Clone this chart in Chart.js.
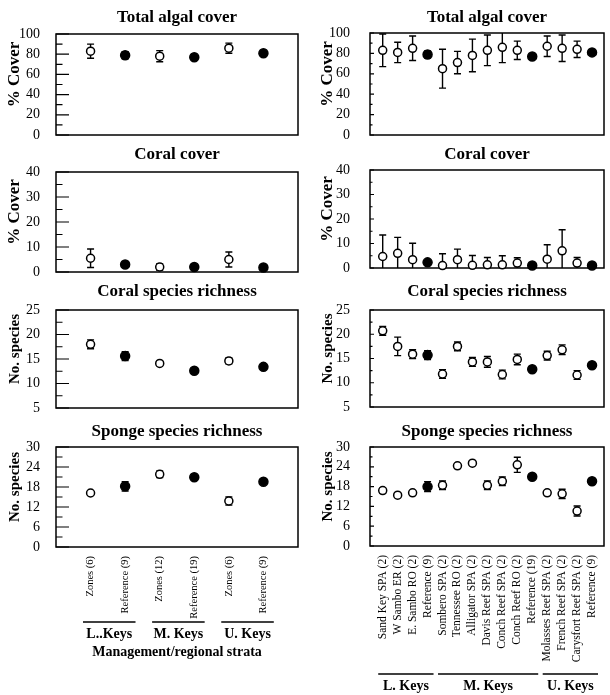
<!DOCTYPE html>
<html>
<head>
<meta charset="utf-8">
<script src="https://cdn.jsdelivr.net/npm/chart.js@4/dist/chart.umd.min.js"></script>
<style>
html,body{margin:0;padding:0;background:#fff;}
body{width:610px;height:695px;position:relative;overflow:hidden;}
canvas{position:absolute;}
</style>
</head>
<body>
<script>
const FONT = "'Liberation Serif', 'Times New Roman', Times, serif";

// ---- categories / labels ----
const leftCategories = ['Zones (6)', 'Reference (9)', 'Zones (12)', 'Reference (19)', 'Zones (6)', 'Reference (9)'];
const rightCategories = ['Sand Key SPA (2)', 'W Sambo ER (2)', 'E. Sambo RO (2)', 'Reference (9)',
  'Sombero SPA (2)', 'Tennessee RO (2)', 'Alligator SPA (2)', 'Davis Reef SPA (2)', 'Conch Reef SPA (2)',
  'Conch Reef RO (2)', 'Reference (19)', 'Molasses Reef SPA (2)', 'French Reef SPA (2)',
  'Carysfort Reef SPA (2)', 'Reference (9)'];
const leftGroupLabels = ['L..Keys', 'M. Keys', 'U. Keys'];
const rightGroupLabels = ['L. Keys', 'M. Keys', 'U. Keys'];
const leftGroupRanges = [[0, 1], [2, 3], [4, 5]];
const rightGroupRanges = [[0, 3], [4, 10], [11, 14]];
const xAxisTitle = 'Management/regional strata';
const panelTitles = ['Total algal cover', 'Coral cover', 'Coral species richness', 'Sponge species richness'];
const yAxisTitles = ['% Cover', '% Cover', 'No. species', 'No. species'];

// ---- tick labels ----
const algalTicks = [0, 20, 40, 60, 80, 100];
const coralTicks = [0, 10, 20, 30, 40];
const richnessTicks = [5, 10, 15, 20, 25];
const spongeTicks = [0, 6, 12, 18, 24, 30];

// ---- series values (mean and +/- error) ----
const leftAlgalMean = [83, 79, 78, 77, 86, 81];
const leftAlgalErr = [7, 3.5, 5.5, 1.5, 5, 1.5];
const rightAlgalMean = [83, 81, 85, 79, 65, 71, 78, 83, 86, 83, 77, 87, 85, 84, 81];
const rightAlgalErr = [16, 10, 12, 3.5, 19, 11, 16, 15, 15, 9, 1.5, 10, 13, 8, 1.5];

const leftCoralMean = [5.5, 3, 2, 2, 5, 1.8];
const leftCoralErr = [3.7, 0.8, 1.3, 0.6, 3, 0.8];
const rightCoralMean = [4.7, 6, 3.4, 2.3, 1, 3.4, 1.1, 1.3, 1.3, 2, 1, 3.6, 7, 2, 1];
const rightCoralErr = [8.8, 6.5, 6.7, 0.6, 4.8, 4.3, 4, 3, 3.7, 2.2, 0.4, 5.9, 8.6, 2.3, 0.4];

const leftRichMean = [18, 15.6, 14.1, 12.6, 14.6, 13.4];
const leftRichErr = [0.9, 0.9, 0.4, 0.4, 0.6, 0.4];
const rightRichMean = [20.7, 17.5, 15.9, 15.7, 11.8, 17.5, 14.3, 14.3, 11.7, 14.8, 12.8, 15.6, 16.8, 11.6, 13.6];
const rightRichErr = [0.9, 1.9, 0.9, 0.9, 0.9, 0.9, 0.9, 1.1, 0.9, 1.1, 0.3, 0.9, 1.0, 0.9, 0.3];

const leftSpongeMean = [16.2, 18.2, 21.8, 20.9, 13.8, 19.6];
const leftSpongeErr = [0.5, 1.4, 1.0, 0.6, 1.2, 0.6];
const rightSpongeMean = [16.8, 15.4, 16.1, 18.0, 18.4, 24.3, 25.1, 18.4, 19.6, 24.6, 21.0, 16.1, 15.8, 10.6, 19.6];
const rightSpongeErr = [0.7, 0.5, 0.5, 1.5, 1.3, 0.6, 0.6, 1.3, 1.3, 2.3, 0.5, 0.6, 1.4, 1.5, 0.5];

// ---- layout (page pixels) ----
const COLS = {
  L: { cLeft: 0, cRight: 305, left: 56, right: 298, xMin: -1, xMax: 6, tickPad: 8, yTitleX: 15,
       major: 13, minor: 6.5, groupPad: [-0.22, 0.3], groupLineY: 622, groupTextY: 634, xFont: 10.5 },
  R: { cLeft: 305, cRight: 610, left: 370, right: 608, xMin: -0.85, xMax: 14.8, tickPad: 12, yTitleX: 328,
       major: 4, minor: 2.5, groupPad: [-0.3, 0.4], groupLineY: 674, groupTextY: 686, xFont: 11.5 }
};
const leftRows = [{top: 34, bottom: 135, titleY: 18}, {top: 172, bottom: 272, titleY: 155},
                  {top: 310, bottom: 408, titleY: 292}, {top: 447, bottom: 547, titleY: 432}];
const rightRows = [{top: 33, bottom: 135, titleY: 18}, {top: 170, bottom: 268, titleY: 155},
                   {top: 310, bottom: 407, titleY: 292}, {top: 447, bottom: 546, titleY: 432}];

function makePanel(o) {
  const col = COLS[o.col];
  const cTop = o.row.top - 38;
  const cBottom = o.last ? 695 : o.row.bottom + 14;
  const W = col.cRight - col.cLeft, H = cBottom - cTop;
  const cv = document.createElement('canvas');
  cv.width = W; cv.height = H;
  cv.style.left = col.cLeft + 'px'; cv.style.top = cTop + 'px';
  cv.style.width = W + 'px'; cv.style.height = H + 'px';
  document.body.appendChild(cv);

  const titleSize = 17, titleLH = titleSize * 1.2;
  const tPadTop = o.row.titleY - cTop - titleLH / 2;
  const tPadBottom = (o.row.top - cTop) - tPadTop - titleLH;
  const isRef = o.cats.map(c => c.indexOf('Reference') === 0);

  const decor = {
    id: 'decor',
    beforeDatasetsDraw(chart) {
      const {ctx, chartArea: a, scales: {x, y}} = chart;
      // error bars
      ctx.save();
      ctx.beginPath(); ctx.rect(a.left, a.top, a.right - a.left, a.bottom - a.top); ctx.clip();
      ctx.strokeStyle = '#000'; ctx.lineWidth = 1.4;
      const cap = 3.5;
      o.mean.forEach((m, i) => {
        const e = o.err[i];
        const px = x.getPixelForValue(i);
        const yt = y.getPixelForValue(m + e), yb = y.getPixelForValue(m - e);
        ctx.beginPath();
        ctx.moveTo(px, yt); ctx.lineTo(px, yb);
        ctx.moveTo(px - cap, yt); ctx.lineTo(px + cap, yt);
        ctx.moveTo(px - cap, yb); ctx.lineTo(px + cap, yb);
        ctx.stroke();
      });
      ctx.restore();
      // frame + inward ticks
      ctx.save();
      ctx.strokeStyle = '#000'; ctx.lineWidth = 1.5;
      ctx.strokeRect(a.left, a.top, a.right - a.left, a.bottom - a.top);
      ctx.lineWidth = 1.2;
      ctx.beginPath();
      o.yTicks.forEach((v, k) => {
        const py = y.getPixelForValue(v);
        ctx.moveTo(a.left, py); ctx.lineTo(a.left + col.major, py);
        if (k < o.yTicks.length - 1) {
          const pm = y.getPixelForValue((v + o.yTicks[k + 1]) / 2);
          ctx.moveTo(a.left, pm); ctx.lineTo(a.left + col.minor, pm);
        }
      });
      ctx.stroke();
      ctx.restore();
    },
    afterDraw(chart) {
      const {ctx, chartArea: a, scales: {x}} = chart;
      ctx.save();
      ctx.fillStyle = '#000';
      // y axis title
      ctx.save();
      ctx.translate(col.yTitleX - col.cLeft, (a.top + a.bottom) / 2 - 10);
      ctx.rotate(-Math.PI / 2);
      ctx.font = 'bold ' + o.yTitleSize + 'px ' + FONT;
      ctx.textAlign = 'center'; ctx.textBaseline = 'middle';
      ctx.fillText(o.yTitle, 0, 0);
      ctx.restore();
      if (o.last) {
        ctx.strokeStyle = '#000'; ctx.lineWidth = 1.5;
        ctx.font = 'bold 14px ' + FONT;
        ctx.textAlign = 'center'; ctx.textBaseline = 'middle';
        o.groupRanges.forEach((r, g) => {
          const x1 = x.getPixelForValue(r[0] + col.groupPad[0]);
          const x2 = x.getPixelForValue(r[1] + col.groupPad[1]);
          const ly = col.groupLineY - cTop;
          ctx.beginPath(); ctx.moveTo(x1, ly); ctx.lineTo(x2, ly); ctx.stroke();
          ctx.fillText(o.groupLabels[g], (x1 + x2) / 2, col.groupTextY - cTop);
        });
        if (o.xTitle) {
          ctx.fillText(o.xTitle, (a.left + a.right) / 2, 652 - cTop);
        }
      }
      ctx.restore();
    }
  };

  return new Chart(cv, {
    type: 'scatter',
    data: {
      datasets: [{
        data: o.mean.map((v, i) => ({x: i, y: v})),
        pointStyle: 'circle',
        pointRadius: isRef.map(r => r ? 4.5 : 4),
        pointBackgroundColor: isRef.map(r => r ? '#000' : '#fff'),
        pointBorderColor: '#000',
        pointBorderWidth: 1.5,
        clip: false
      }]
    },
    options: {
      responsive: false,
      animation: false,
      events: [],
      layout: {padding: {left: 0, top: 0, right: col.cRight - col.right, bottom: 0}},
      plugins: {
        legend: {display: false},
        tooltip: {enabled: false},
        title: {
          display: true, text: o.title, fullSize: false, color: '#000',
          font: {family: FONT, size: titleSize, weight: 'bold', lineHeight: 1.2},
          padding: {top: tPadTop, bottom: tPadBottom}
        }
      },
      scales: {
        x: {
          type: 'linear', min: col.xMin, max: col.xMax,
          grid: {display: false}, border: {display: false},
          afterBuildTicks: s => { s.ticks = o.cats.map((c, i) => ({value: i})); },
          afterFit: s => { s.height = cBottom - o.row.bottom; s.paddingLeft = 0; s.paddingRight = 0; },
          ticks: {
            display: !!o.last, autoSkip: false, minRotation: 90, maxRotation: 90, padding: 1,
            color: '#000', font: {family: FONT, size: col.xFont},
            callback: (v, i) => o.cats[i]
          }
        },
        y: {
          min: o.yTicks[0], max: o.yTicks[o.yTicks.length - 1],
          grid: {display: false}, border: {display: false},
          afterBuildTicks: s => { s.ticks = o.yTicks.map(v => ({value: v})); },
          afterFit: s => { s.width = col.left - col.cLeft; s.paddingTop = 0; s.paddingBottom = 0; },
          ticks: {padding: col.tickPad, color: '#000', font: {family: FONT, size: 14}}
        }
      }
    },
    plugins: [decor]
  });
}

const leftSeries = [[leftAlgalMean, leftAlgalErr, algalTicks], [leftCoralMean, leftCoralErr, coralTicks],
                    [leftRichMean, leftRichErr, richnessTicks], [leftSpongeMean, leftSpongeErr, spongeTicks]];
const rightSeries = [[rightAlgalMean, rightAlgalErr, algalTicks], [rightCoralMean, rightCoralErr, coralTicks],
                     [rightRichMean, rightRichErr, richnessTicks], [rightSpongeMean, rightSpongeErr, spongeTicks]];
const yTitleSizes = [17, 17, 15, 15];

for (let r = 0; r < 4; r++) {
  makePanel({col: 'L', row: leftRows[r], title: panelTitles[r], yTitle: yAxisTitles[r], yTitleSize: yTitleSizes[r],
    cats: leftCategories, mean: leftSeries[r][0], err: leftSeries[r][1], yTicks: leftSeries[r][2],
    last: r === 3, groupLabels: leftGroupLabels, groupRanges: leftGroupRanges, xTitle: xAxisTitle});
  makePanel({col: 'R', row: rightRows[r], title: panelTitles[r], yTitle: yAxisTitles[r], yTitleSize: yTitleSizes[r],
    cats: rightCategories, mean: rightSeries[r][0], err: rightSeries[r][1], yTicks: rightSeries[r][2],
    last: r === 3, groupLabels: rightGroupLabels, groupRanges: rightGroupRanges, xTitle: null});
}
</script>
</body>
</html>
